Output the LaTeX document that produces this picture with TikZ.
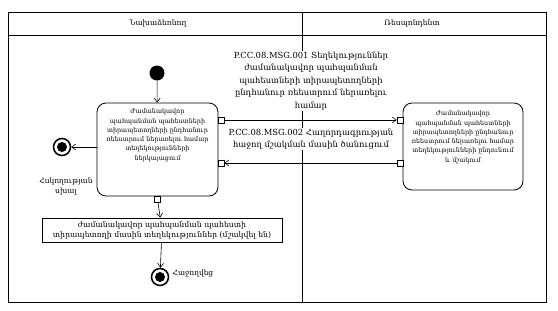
\documentclass[tikz,border=0pt]{standalone}
\usepackage{fontspec}
\setmainfont{DejaVu Serif}
\usetikzlibrary{arrows.meta,positioning}

\begin{document}
\begin{tikzpicture}[x=1pt,y=-1pt]
\tikzset{
    laneHead/.style={font=\fontsize{7.6}{9}\selectfont},
    actBox/.style={rectangle,rounded corners=9pt,draw=black,line width=0.8pt},
    actText/.style={align=center,inner sep=0pt,font=\fontsize{6.4}{9.3}\selectfont},
    objBox/.style={rectangle,draw=black,line width=0.6pt,align=center,minimum width=240pt,minimum height=24pt,inner sep=1pt,font=\fontsize{7.8}{10}\selectfont},
    msgText/.style={align=center,inner sep=1pt,fill=white,font=\fontsize{8.4}{12.5}\selectfont},
    pinBox/.style={rectangle,draw=black,fill=white,line width=0.6pt,minimum size=6pt,inner sep=0pt},
    startDot/.style={circle,fill=black,minimum size=15pt,inner sep=0pt},
    endRing/.style={circle,draw=black,line width=1.5pt,fill=white,minimum size=17pt,inner sep=0pt},
    endDot/.style={circle,fill=black,minimum size=10pt,inner sep=0pt},
    flow/.style={-{Straight Barb[length=4pt,width=6pt]},line width=0.6pt},
    noteText/.style={align=center,inner sep=0pt,font=\fontsize{7.5}{10}\selectfont},
}
\useasboundingbox (0,0) rectangle (558,311);

% swimlanes
\draw[line width=0.6pt] (8,12) rectangle (546,302);
\draw[line width=0.6pt] (8,35) -- (546,35);
\draw[line width=0.6pt] (302,12) -- (302,302);
\node[laneHead] (iniHead) at (158,23.5) {Նախաձեռնող};
\node[laneHead] (resHead) at (412,23.5) {Ռեսպոնդենտ};

% initiator
\node[startDot] (start) at (157,73) {};
\node[actBox,minimum width=121pt,minimum height=93pt] (prepBox) at (157.5,149.5) {};
\node[actText,below=6pt of prepBox.north] (prepText) {Ժամանակավոր\\պահպանման պահեստների\\տիրապետողների ընդհանուր\\ռեեստրում ներառելու համար\\տեղեկությունների\\ներկայացում};
\node[pinBox] (outA) at (221,120) {};
\node[pinBox] (inB) at (221,163) {};
\node[pinBox] (outC) at (157.5,199) {};

% respondent
\node[actBox,minimum width=120pt,minimum height=87pt] (procBox) at (463,146.5) {};
\node[actText,below=8pt of procBox.north] (procText) {Ժամանակավոր\\պահպանման պահեստների\\տիրապետողների ընդհանուր\\ռեեստրում ներառելու համար\\տեղեկությունների ընդունում\\և մշակում};
\node[pinBox] (inA) at (400,120) {};
\node[pinBox] (outB) at (400,163) {};

% messages
\node[msgText] (msgOne) at (311,81) {P.CC.08.MSG.001 Տեղեկություններ\\ժամանակավոր պահպանման\\պահեստների տիրապետողների\\ընդհանուր ռեեստրում ներառելու\\համար};
\node[msgText] (msgTwo) at (311,139) {P.CC.08.MSG.002 Հաղորդագրության\\հաջող մշակման մասին ծանուցում};

% ends
\node[endRing] (errEnd) at (62,147) {};
\node[endDot] at (errEnd) {};
\node[noteText] (errText) at (66,186) {Հսկողության\\սխալ};
\node[objBox] (infoBox) at (162,230) {ժամանակավոր պահպանման պահեստի\\տիրապետողի մասին տեղեկություններ (մշակվել են)};
\node[endRing] (okEnd) at (160,277) {};
\node[endDot] at (okEnd) {};
\node[noteText] (okText) at (193,273) {Հաջողվեց};

% flows
\draw[flow] (start) -- (prepBox);
\draw[flow] (outA) -- (inA);
\draw[flow] (outB) -- (inB);
\draw[flow] (prepBox.west |- errEnd) -- (errEnd);
\draw[flow] (outC) -- (infoBox);
\draw[flow] (infoBox) -- (okEnd);
\end{tikzpicture}
\end{document}
